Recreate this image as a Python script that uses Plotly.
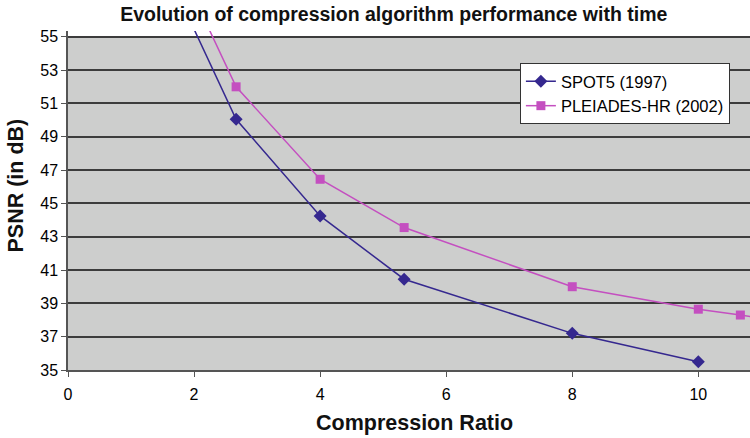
import plotly.graph_objects as go

ratio_spot5 = [1.6, 2.667, 4, 5.333, 8, 10]
psnr_spot5 = [58.7, 50.05, 44.25, 40.45, 37.2, 35.5]

ratio_pleiades = [1.6, 2.667, 4, 5.333, 8, 10, 10.667, 12]
psnr_pleiades = [60.6, 52.0, 46.45, 43.55, 40.0, 38.65, 38.3, 37.5]

x_ticks = [0, 2, 4, 6, 8, 10]
y_ticks = [35, 37, 39, 41, 43, 45, 47, 49, 51, 53, 55]

FONT = "Liberation Sans, Arial, sans-serif"

fig = go.Figure()
fig.add_trace(go.Scatter(
    x=ratio_spot5, y=psnr_spot5, mode="lines+markers", name="SPOT5 (1997)",
    line=dict(color="#35288F", width=1.5),
    marker=dict(symbol="diamond", size=10, color="#35288F"),
))
fig.add_trace(go.Scatter(
    x=ratio_pleiades, y=psnr_pleiades, mode="lines+markers", name="PLEIADES-HR (2002)",
    line=dict(color="#C44FC0", width=1.5),
    marker=dict(symbol="square", size=9, color="#C44FC0"),
))

# gray plot background only between 35 and 55
fig.add_shape(type="rect", xref="x domain", yref="y", x0=0, x1=1, y0=35, y1=55,
              fillcolor="#CDCECD", line=dict(width=0), layer="below")

fig.update_layout(
    width=750, height=438,
    margin=dict(l=68, r=0, t=31, b=68),
    paper_bgcolor="white", plot_bgcolor="white",
    font=dict(family=FONT, size=16, color="black"),
    title=dict(text="<b>Evolution of compression algorithm performance with time</b>",
               x=0.525, xanchor="center", y=0.968, yanchor="middle",
               font=dict(size=19.5, family=FONT, color="#111111")),
    legend=dict(x=0.6626, y=0.9056, xanchor="left", yanchor="top",
                bgcolor="white", bordercolor="#333333", borderwidth=1,
                font=dict(size=16.5, family=FONT), tracegroupgap=2),
    showlegend=True,
    annotations=[
        dict(text="<b>Compression Ratio</b>", xref="paper", yref="paper",
             x=0.5085, y=-0.1563, xanchor="center", yanchor="middle", showarrow=False,
             font=dict(size=21.5, family=FONT, color="#111111")),
        dict(text="<b>PSNR (in dB)</b>", xref="paper", yref="paper", textangle=-90,
             x=-0.0769, y=0.5428, xanchor="center", yanchor="middle", showarrow=False,
             font=dict(size=21.5, family=FONT, color="#111111")),
    ],
)
fig.update_xaxes(
    range=[0, 10.82], tickvals=x_ticks, ticktext=[str(v) for v in x_ticks],
    showgrid=False, zeroline=False, showline=True, linecolor="#555555", linewidth=1.5,
    ticks="outside", ticklen=5, tickcolor="#555555", ticklabelstandoff=4,
)
fig.update_yaxes(
    range=[35, 55.35], tickvals=y_ticks, ticktext=[str(v) for v in y_ticks],
    showgrid=True, gridcolor="#3C3C3C", gridwidth=1.5, zeroline=False,
    showline=True, linecolor="#555555", linewidth=1.5,
    ticks="outside", ticklen=5, tickcolor="#555555",
)

fig.write_html("out.html")
